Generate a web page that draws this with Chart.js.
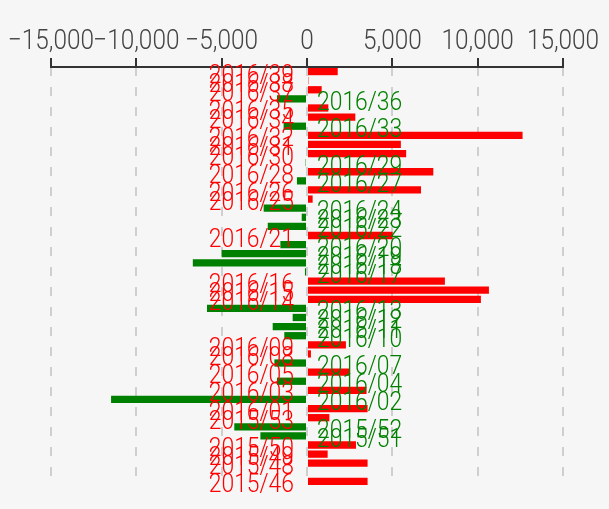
<!DOCTYPE html>
<html>
<head>
<meta charset="utf-8">
<script src="https://cdn.jsdelivr.net/npm/chart.js@4/dist/chart.umd.min.js"></script>
<style>
html,body{margin:0;padding:0;background:#f6f6f6;}
#c{display:block;}
</style>
</head>
<body>
<canvas id="c" width="609" height="509"></canvas>
<script>
const weeks = ['2015/46','2015/47','2015/48','2015/49','2015/50','2015/51','2015/52','2015/53',
  '2016/01','2016/02','2016/03','2016/04','2016/05','2016/07','2016/08','2016/09','2016/10',
  '2016/11','2016/12','2016/13','2016/14','2016/15','2016/16','2016/17','2016/18','2016/19',
  '2016/20','2016/21','2016/22','2016/23','2016/24','2016/25','2016/26','2016/27','2016/28',
  '2016/29','2016/30','2016/31','2016/32','2016/33','2016/34','2016/35','2016/36','2016/37',
  '2016/38','2016/39'];
const values = [3550,null,3550,1210,2870,-2730,-4260,1310,
  3550,-11480,3490,-1760,2480,-1910,230,2280,-1330,
  -2010,-840,-5860,10190,10660,8080,-120,-6690,-5000,
  -1560,5020,-2300,-310,-2540,330,6680,-590,7400,
  -80,5810,5500,12630,-1370,2830,1250,-1760,860,
  80,1800];
const xTicks = [-15000,-10000,-5000,0,5000,10000,15000];

const POS = 'red', NEG = 'green';
const FONT = 'Roboto, "Liberation Sans", sans-serif';

function drawScaled(ctx, text, x, y, align, sx) {
  ctx.save();
  ctx.translate(x, y);
  ctx.scale(sx, 1);
  ctx.textAlign = align;
  ctx.fillText(text, 0, 0);
  ctx.restore();
}
function fmt(v) {
  const s = Math.abs(v).toLocaleString('en-US');
  return v < 0 ? '\u2212' + s : s;
}

const overlay = {
  id: 'overlay',
  afterDatasetsDraw(chart) {
    const ctx = chart.ctx;
    const xs = chart.scales.x, ys = chart.scales.y;
    const top = chart.chartArea.top;
    // axis line + ticks
    ctx.save();
    ctx.strokeStyle = '#333';
    ctx.lineWidth = 2;
    ctx.beginPath();
    ctx.moveTo(xs.getPixelForValue(xTicks[0]) - 1, top);
    ctx.lineTo(xs.getPixelForValue(xTicks[xTicks.length-1]) + 1, top);
    xTicks.forEach(t => {
      const px = Math.round(xs.getPixelForValue(t));
      ctx.moveTo(px, top);
      ctx.lineTo(px, top - 9);
    });
    ctx.stroke();
    // tick labels
    ctx.fillStyle = '#444';
    ctx.font = '300 28px ' + FONT;
    ctx.textBaseline = 'alphabetic';
    xTicks.forEach(t => {
      drawScaled(ctx, fmt(t), xs.getPixelForValue(t), 49, 'center', 0.87);
    });
    // bar labels
    ctx.font = '300 26px ' + FONT;
    const zero = xs.getPixelForValue(0);
    values.forEach((v, i) => {
      if (v === null) return;
      const y = ys.getPixelForValue(i) + 11;
      if (v >= 0) {
        ctx.fillStyle = POS;
        drawScaled(ctx, weeks[i], zero - 13, y, 'right', 0.88);
      } else {
        ctx.fillStyle = NEG;
        drawScaled(ctx, weeks[i], zero + 10, y, 'left', 0.88);
      }
    });
    ctx.restore();
  }
};

new Chart(document.getElementById('c'), {
  type: 'bar',
  data: {
    labels: weeks,
    datasets: [{
      data: values,
      backgroundColor: values.map(v => (v !== null && v < 0) ? NEG : POS),
      barPercentage: 1,
      categoryPercentage: 0.8
    }]
  },
  options: {
    indexAxis: 'y',
    responsive: false,
    animation: false,
    layout: { padding: { left: 51, right: 46, top: 67, bottom: 23 } },
    plugins: { legend: { display: false }, tooltip: { enabled: false } },
    scales: {
      x: {
        type: 'linear',
        position: 'top',
        min: -15000,
        max: 15000,
        ticks: { display: false, stepSize: 5000 },
        grid: { color: '#cfcfcf', lineWidth: 2, drawTicks: false },
        border: { display: false, dash: [9, 11] }
      },
      y: {
        reverse: true,
        ticks: { display: false },
        grid: { display: false, drawTicks: false },
        border: { display: false }
      }
    }
  },
  plugins: [overlay]
});
</script>
</body>
</html>
